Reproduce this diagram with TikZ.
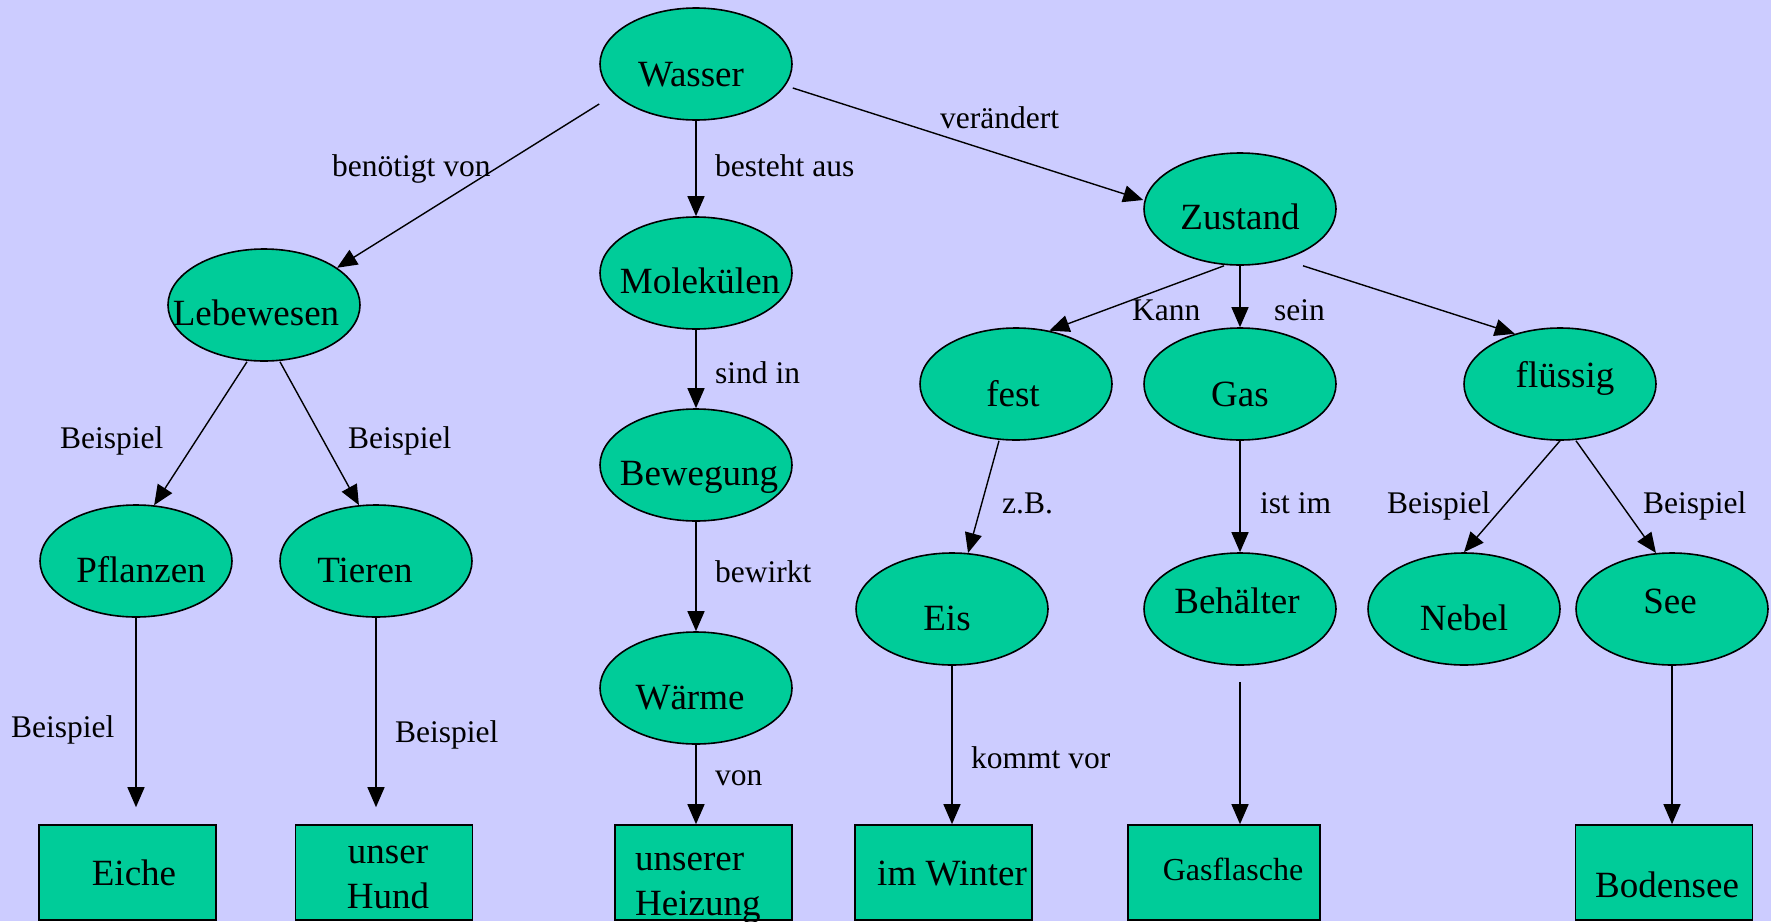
\documentclass[tikz,border=0pt]{standalone}
\usepackage{fontspec}
\setmainfont{Liberation Serif}
\usetikzlibrary{shapes.geometric,arrows.meta}
\definecolor{bgc}{RGB}{204,204,255}
\definecolor{nodegreen}{RGB}{0,204,153}

\begin{document}
\begin{tikzpicture}[x=1pt,y=-1pt,
  concept/.style={ellipse,draw,fill=nodegreen,line width=1.6pt,minimum width=192pt,minimum height=112pt,inner sep=0pt},
  example/.style={rectangle,draw,fill=nodegreen,line width=1.6pt,minimum width=177pt,minimum height=95pt,inner sep=0pt},
  ntext/.style={anchor=base,inner sep=0pt,font=\fontsize{37}{45}\selectfont},
  rel/.style={anchor=base west,inner sep=0pt,font=\fontsize{31.5}{38}\selectfont},
  link/.style={-{Triangle[length=20pt,width=17pt]},line width=1.4pt},
]
% background
\fill[bgc] (0,0) rectangle (1771,921);
\useasboundingbox (0,0) rectangle (1771,921);

% concept ellipses
\node[concept] (wasser) at (696,64) {};
\node[concept] (lebewesen) at (264,305) {};
\node[concept] (molekuelen) at (696,273) {};
\node[concept] (zustand) at (1240,209) {};
\node[concept] (fest) at (1016,384) {};
\node[concept] (gas) at (1240,384) {};
\node[concept] (fluessig) at (1560,384) {};
\node[concept] (bewegung) at (696,465) {};
\node[concept] (pflanzen) at (136,561) {};
\node[concept] (tieren) at (376,561) {};
\node[concept] (waerme) at (696,688) {};
\node[concept] (eis) at (952,609) {};
\node[concept] (behaelter) at (1240,609) {};
\node[concept] (nebel) at (1464,609) {};
\node[concept] (see) at (1672,609) {};

% example boxes
\node[example] (eiche) at (127.5,872.5) {};
\node[example] (hund) at (384,872.5) {};
\node[example] (heizung) at (703.5,872.5) {};
\node[example] (winter) at (943.5,872.5) {};
\node[example,minimum width=192pt] (gasflasche) at (1224,872.5) {};
\node[example] (bodensee) at (1664,872.5) {};

% connectors
\draw[link] ([yshift=-40pt]wasser.west) -- (lebewesen.27);
\draw[link] (wasser.south) -- (molekuelen.north);
\draw[link] ([yshift=-24pt]wasser.east) -- ([yshift=9pt]zustand.west);
\draw[link] ([xshift=-16pt]zustand.south) -- (fest.58);
\draw[link] (zustand.south) -- (gas.north);
\draw[link] ([xshift=63pt]zustand.south) -- (fluessig.132);
\draw[link] (molekuelen.south) -- (bewegung.north);
\draw[link] ([xshift=-17pt]lebewesen.south) -- (pflanzen.72);
\draw[link] ([xshift=16pt]lebewesen.south) -- (tieren.107);
\draw[link,shorten >=17pt] (pflanzen.south) -- (pflanzen.south |- eiche.north);
\draw[link,shorten >=17pt] (tieren.south) -- (tieren.south |- hund.north);
\draw[link] (bewegung.south) -- (waerme.north);
\draw[link] (waerme.south) -- (waerme.south |- heizung.north);
\draw[link] ([xshift=-17pt]fest.south) -- (eis.74);
\draw[link] (gas.south) -- (behaelter.north);
\draw[link] (fluessig.south) -- (nebel.north);
\draw[link] ([xshift=16pt]fluessig.south) -- (see.106);
\draw[link] (eis.south) -- (eis.south |- winter.north);
\draw[link,shorten <=16pt] (behaelter.south) -- (behaelter.south |- gasflasche.north);
\draw[link] (see.south) -- (see.south |- bodensee.north);

% concept texts
\node[ntext] (wasser-t) at (691,86) {Wasser};
\node[ntext] (lebewesen-t) at (256,325) {Lebewesen};
\node[ntext] (molekuelen-t) at (700,293) {Molekülen};
\node[ntext] (zustand-t) at (1240,229) {Zustand};
\node[ntext] (fest-t) at (1013,406) {fest};
\node[ntext] (gas-t) at (1240,406) {Gas};
\node[ntext] (fluessig-t) at (1565,387) {flüssig};
\node[ntext] (bewegung-t) at (699,485) {Bewegung};
\node[ntext] (pflanzen-t) at (141,582) {Pflanzen};
\node[ntext] (tieren-t) at (365,582) {Tieren};
\node[ntext] (waerme-t) at (690,709) {Wärme};
\node[ntext] (eis-t) at (947,630) {Eis};
\node[ntext] (behaelter-t) at (1237,613) {Behälter};
\node[ntext] (nebel-t) at (1464,630) {Nebel};
\node[ntext] (see-t) at (1670,613) {See};

% box texts
\node[ntext] (eiche-t) at (134,885) {Eiche};
\node[ntext,text width=177pt,align=center] (hund-t) at (388,863) {unser\\Hund};
\node[ntext,anchor=base west,text width=177pt,align=left] (heizung-t) at (635,870) {unserer\\Heizung};
\node[ntext] (winter-t) at (952,885) {im Winter};
\node[ntext,font=\fontsize{32}{38}\selectfont] (gasflasche-t) at (1233,880) {Gasflasche};
\node[ntext] (bodensee-t) at (1667,897) {Bodensee};

% relation labels
\node[rel] (r1) at (332,176) {benötigt von};
\node[rel] (r2) at (715,176) {besteht aus};
\node[rel] (r3) at (940,128) {verändert};
\node[rel] (r4) at (1132,320) {Kann};
\node[rel] (r5) at (1274,320) {sein};
\node[rel] (r6) at (715,383) {sind in};
\node[rel] (r7) at (60,448) {Beispiel};
\node[rel] (r8) at (348,448) {Beispiel};
\node[rel] (r9) at (11,737) {Beispiel};
\node[rel] (r10) at (395,742) {Beispiel};
\node[rel] (r11) at (715,582) {bewirkt};
\node[rel] (r12) at (715,785) {von};
\node[rel] (r13) at (1002,513) {z.B.};
\node[rel] (r14) at (1260,513) {ist im};
\node[rel] (r15) at (1387,513) {Beispiel};
\node[rel] (r16) at (1643,513) {Beispiel};
\node[rel] (r17) at (971,768) {kommt vor};
\end{tikzpicture}
\end{document}
